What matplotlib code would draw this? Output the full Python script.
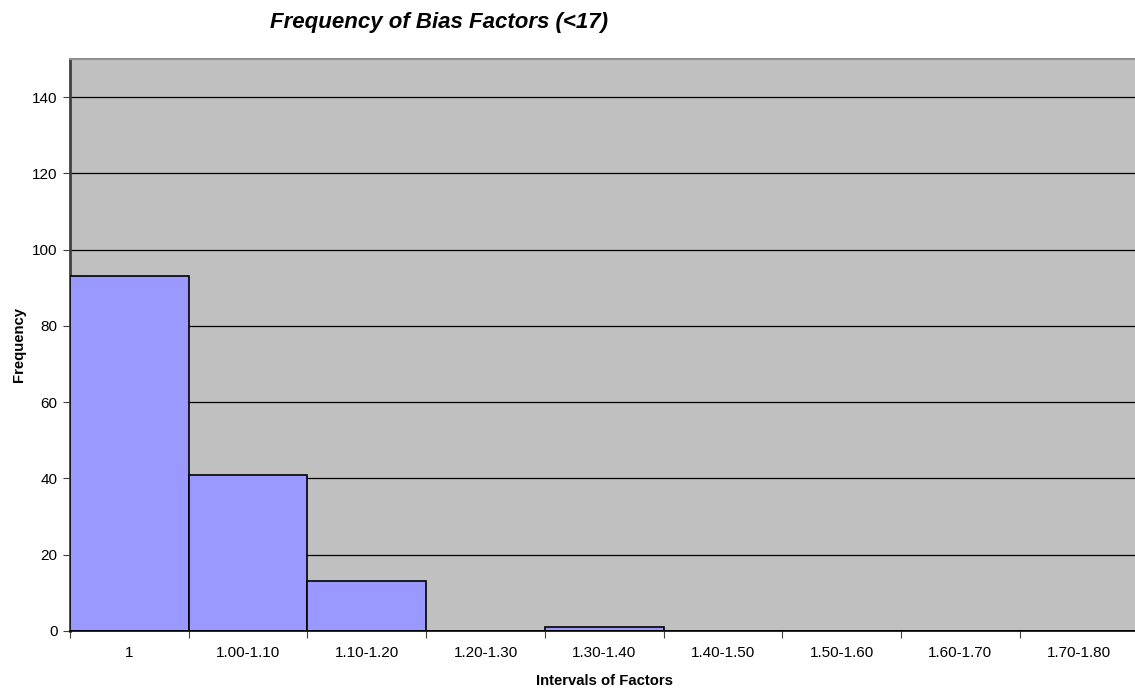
import numpy as np
import matplotlib.pyplot as plt

# histogram data
categories = ["1", "1.00-1.10", "1.10-1.20", "1.20-1.30", "1.30-1.40",
              "1.40-1.50", "1.50-1.60", "1.60-1.70", "1.70-1.80"]
counts = [93, 41, 13, 0, 1, 0, 0, 0, 0]

plt.rcParams["font.family"] = ["Liberation Sans", "DejaVu Sans"]

fig = plt.figure(figsize=(11.35, 6.93), dpi=100)
# plot area runs off the right edge of the picture, like the source
ax = fig.add_axes([0.0617, 0.0895, 0.9414, 0.8254])
ax.set_facecolor("#C0C0C0")

x = np.arange(len(categories))
ax.bar(x, counts, width=1.0, color="#9999FF", edgecolor="black", linewidth=1.2, zorder=3)

ax.set_xlim(-0.5, len(categories) - 0.5)
ax.set_ylim(0, 150)
ax.set_yticks(np.arange(0, 141, 20))
ax.yaxis.grid(True, color="black", linewidth=0.9, zorder=1)
ax.set_axisbelow(True)

# category labels centred, ticks on the boundaries
ax.set_xticks(x)
ax.set_xticklabels(categories)
ax.tick_params(axis="x", which="major", length=0, labelsize=11, pad=11)
ax.set_xticks(np.arange(-0.5, len(categories)), minor=True)
ax.tick_params(axis="x", which="minor", length=5, width=0.8, color="#404040")
ax.tick_params(axis="y", labelsize=11, length=5, width=0.8, color="#404040", pad=4)

ax.spines["right"].set_visible(False)
ax.spines["top"].set_color("#909090")
ax.spines["top"].set_linewidth(1.5)
ax.spines["left"].set_color("#404040")
ax.spines["left"].set_linewidth(2)
ax.spines["bottom"].set_color("black")
ax.spines["bottom"].set_linewidth(1.2)
ax.spines["bottom"].set_zorder(4)

ax.set_xlabel("Intervals of Factors", fontsize=10.7, fontweight="bold", labelpad=10)
ax.set_ylabel("Frequency", fontsize=10.7, fontweight="bold", labelpad=4.5)
fig.text(0.387, 0.967, "Frequency of Bias Factors (<17)", fontsize=16,
         fontweight="bold", fontstyle="italic", ha="center", va="center")

fig.savefig("out.png", dpi=100)
